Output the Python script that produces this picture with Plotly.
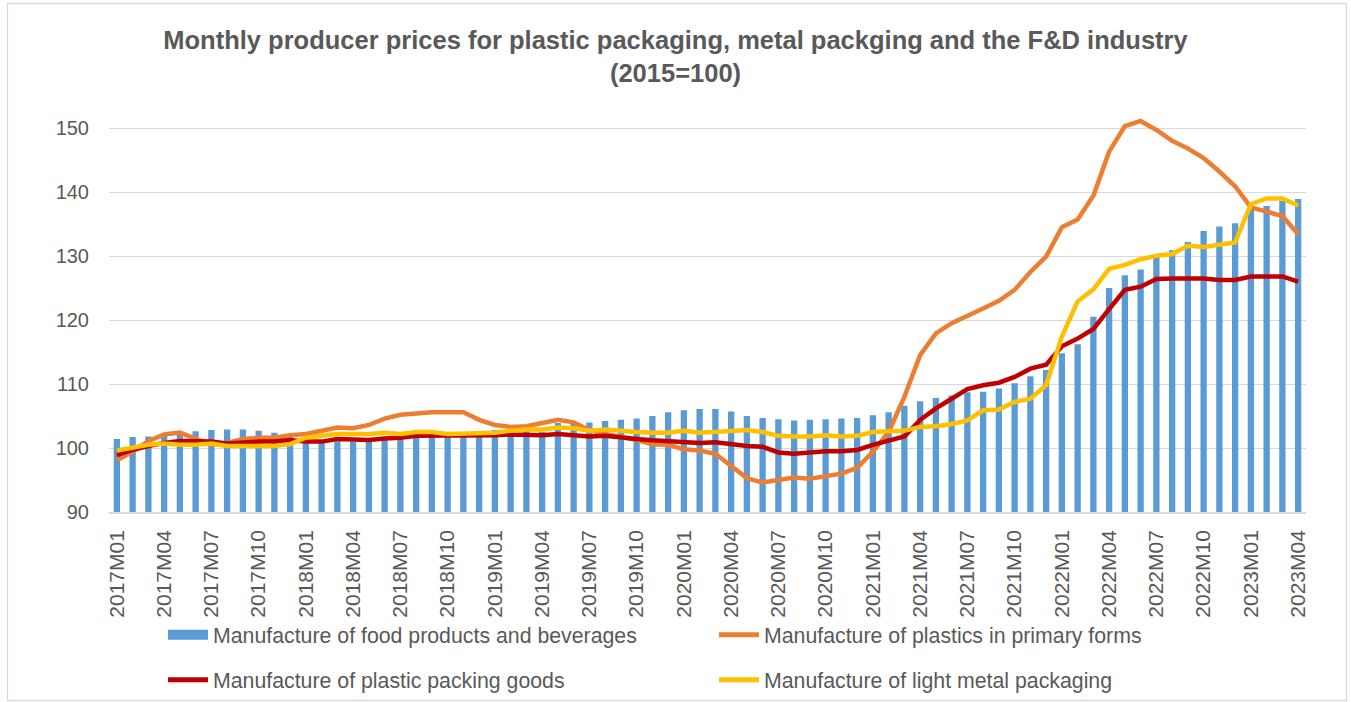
import plotly.graph_objects as go

months = [f"{y}M{m:02d}" for y in range(2017, 2024) for m in range(1, 13)][:76]

food_bev = [101.4, 101.7, 101.8, 102.0, 102.2, 102.6, 102.8, 102.9, 102.9, 102.7, 102.4, 102.0,
            100.8, 101.0, 101.0, 101.0, 101.0, 101.5, 101.5, 101.8, 101.8, 101.8, 101.8, 101.8,
            102.8, 102.8, 102.8, 102.5, 103.9, 103.8, 104.0, 104.2, 104.4, 104.6, 105.0, 105.6,
            105.9, 106.1, 106.1, 105.7, 105.0, 104.7, 104.5, 104.3, 104.4, 104.5, 104.6, 104.7,
            105.1, 105.6, 106.6, 107.3, 107.8, 108.2, 108.7, 108.8, 109.3, 110.1, 111.2, 112.2,
            114.8, 116.2, 120.5, 125.0, 127.0, 127.9, 130.0, 130.9, 132.2, 133.9, 134.6, 135.1,
            137.3, 137.8, 138.6, 138.9]

plastics_primary = [98.1, 99.4, 101.1, 102.1, 102.4, 101.4, 100.5, 100.8, 101.4, 101.6, 101.6, 102.0,
                    102.2, 102.7, 103.2, 103.1, 103.6, 104.6, 105.2, 105.4, 105.6, 105.6, 105.6, 104.4,
                    103.6, 103.3, 103.4, 103.9, 104.4, 104.0, 102.8, 102.2, 101.8, 101.25, 100.6, 100.5,
                    99.8, 99.6, 99.1, 97.1, 95.3, 94.6, 95.0, 95.4, 95.2, 95.6, 96.0, 96.9,
                    99.4, 102.5, 108.0, 114.5, 117.9, 119.5, 120.6, 121.8, 123.0, 124.7, 127.5, 129.9,
                    134.5, 135.7, 139.4, 146.3, 150.3, 151.1, 149.7, 148.0, 146.8, 145.3, 143.2, 140.9,
                    137.6, 136.9, 136.25, 133.4]

plastic_packing = [98.9, 99.7, 100.3, 100.8, 101.1, 101.1, 101.0, 100.7, 100.9, 101.0, 101.0, 101.25,
                   101.0, 101.0, 101.4, 101.4, 101.25, 101.5, 101.6, 101.9, 101.9, 102.0, 102.0, 102.0,
                   102.0, 102.1, 102.0, 102.0, 102.2, 102.0, 101.8, 101.9, 101.6, 101.4, 101.2, 101.1,
                   100.9, 100.8, 100.9, 100.6, 100.3, 100.2, 99.3, 99.1, 99.3, 99.5, 99.5, 99.7,
                   100.5, 101.1, 101.8, 104.4, 106.2, 107.7, 109.2, 109.8, 110.2, 111.1, 112.4, 113.0,
                   115.9, 117.1, 118.6, 121.7, 124.7, 125.2, 126.4, 126.5, 126.5, 126.5, 126.25, 126.25,
                   126.8, 126.8, 126.8, 126.0]

light_metal = [99.6, 100.1, 100.5, 100.7, 100.5, 100.5, 100.7, 100.3, 100.3, 100.3, 100.3, 100.6,
               101.6, 101.9, 102.2, 102.2, 102.2, 102.4, 102.2, 102.5, 102.5, 102.2, 102.3, 102.4,
               102.4, 102.7, 102.9, 102.9, 103.2, 103.1, 102.7, 102.9, 102.65, 102.5, 102.4, 102.4,
               102.7, 102.4, 102.5, 102.65, 102.8, 102.5, 101.9, 101.8, 101.8, 102.0, 101.8, 101.9,
               102.5, 102.6, 102.7, 103.3, 103.4, 103.75, 104.3, 105.9, 106.0, 107.2, 107.7, 109.8,
               117.4, 122.9, 124.8, 128.0, 128.6, 129.5, 130.05, 130.3, 131.6, 131.4, 131.8, 132.1,
               138.1, 139.0, 139.0, 137.9]

y_ticks = [90, 100, 110, 120, 130, 140, 150]
x_ticks = months[::3]

names = ["Manufacture of food products and beverages",
         "Manufacture of plastics in primary forms",
         "Manufacture of plastic packing goods",
         "Manufacture of light metal packaging"]
C_BLUE, C_ORANGE, C_RED, C_YELLOW = "#5B9BD5", "#ED7D31", "#C00000", "#FFC000"

FONT = "Liberation Sans, Arial, sans-serif"
GRAY = "#595959"

fig = go.Figure()
fig.add_trace(go.Bar(x=months, y=food_bev, marker=dict(color=C_BLUE, line=dict(width=0)),
                     name=names[0], showlegend=False))
fig.add_trace(go.Scatter(x=months, y=plastics_primary, mode="lines", name=names[1],
                         line=dict(color=C_ORANGE, width=4.5), showlegend=False))
fig.add_trace(go.Scatter(x=months, y=plastic_packing, mode="lines", name=names[2],
                         line=dict(color=C_RED, width=4.5), showlegend=False))
fig.add_trace(go.Scatter(x=months, y=light_metal, mode="lines", name=names[3],
                         line=dict(color=C_YELLOW, width=4.5), showlegend=False))

# legend entries (two rows, two legends)
fig.add_trace(go.Scatter(x=[None], y=[None], mode="lines", name=names[0],
                         line=dict(color=C_BLUE, width=14), legend="legend"))
fig.add_trace(go.Scatter(x=[None], y=[None], mode="lines", name=names[1],
                         line=dict(color=C_ORANGE, width=5), legend="legend"))
fig.add_trace(go.Scatter(x=[None], y=[None], mode="lines", name=names[2],
                         line=dict(color=C_RED, width=5), legend="legend2"))
fig.add_trace(go.Scatter(x=[None], y=[None], mode="lines", name=names[3],
                         line=dict(color=C_YELLOW, width=5), legend="legend2"))

W, H = 1351, 702
L, R, T, B = 109, 45, 96, 190
pw, ph = W - L - R, H - T - B

def px_x(x):
    return (x - L) / pw

def px_y(y):
    return (H - B - y) / ph

leg_common = dict(orientation="h", xanchor="left", yanchor="middle",
                  font=dict(family=FONT, size=21.3, color=GRAY),
                  entrywidth=496, entrywidthmode="pixels",
                  bgcolor="rgba(0,0,0,0)", itemwidth=40)

fig.update_layout(
    width=W, height=H,
    margin=dict(l=L, r=R, t=T, b=B, autoexpand=False),
    paper_bgcolor="white", plot_bgcolor="white",
    font=dict(family=FONT, color=GRAY),
    bargap=0.6,
    title=dict(text="<b>Monthly producer prices for plastic packaging, metal packging and the F&D industry<br>(2015=100)</b>",
               x=0.5, xref="container", xanchor="center",
               y=1 - 49 / H, yref="container", yanchor="top",
               font=dict(family=FONT, size=25.5, color=GRAY)),
    legend=dict(x=px_x(163), y=px_y(635), **leg_common),
    legend2=dict(x=px_x(163), y=px_y(680), **leg_common),
    xaxis=dict(type="category", categoryorder="array", categoryarray=months,
               tickvals=x_ticks, ticktext=x_ticks, tickangle=-90,
               tickfont=dict(family=FONT, size=21, color=GRAY),
               showgrid=False, showline=True, linecolor="#D9D9D9", linewidth=1.5,
               ticks="", ticklabelstandoff=8, zeroline=False),
    yaxis=dict(range=[90, 155], tickvals=y_ticks,
               tickfont=dict(family=FONT, size=20, color=GRAY),
               showgrid=True, gridcolor="#D9D9D9", gridwidth=1.3,
               showline=False, zeroline=False, ticks="", ticklabelstandoff=19),
    shapes=[dict(type="rect", xref="paper", yref="paper",
                 x0=px_x(7.5), x1=px_x(1346.5), y0=px_y(700.5), y1=px_y(3.5),
                 line=dict(color="#D9D9D9", width=1.3), fillcolor="rgba(0,0,0,0)", layer="below")],
)

fig.write_html("out.html", config={"displayModeBar": False},
               post_script="document.body.style.margin='0';document.body.style.overflow='hidden';")
